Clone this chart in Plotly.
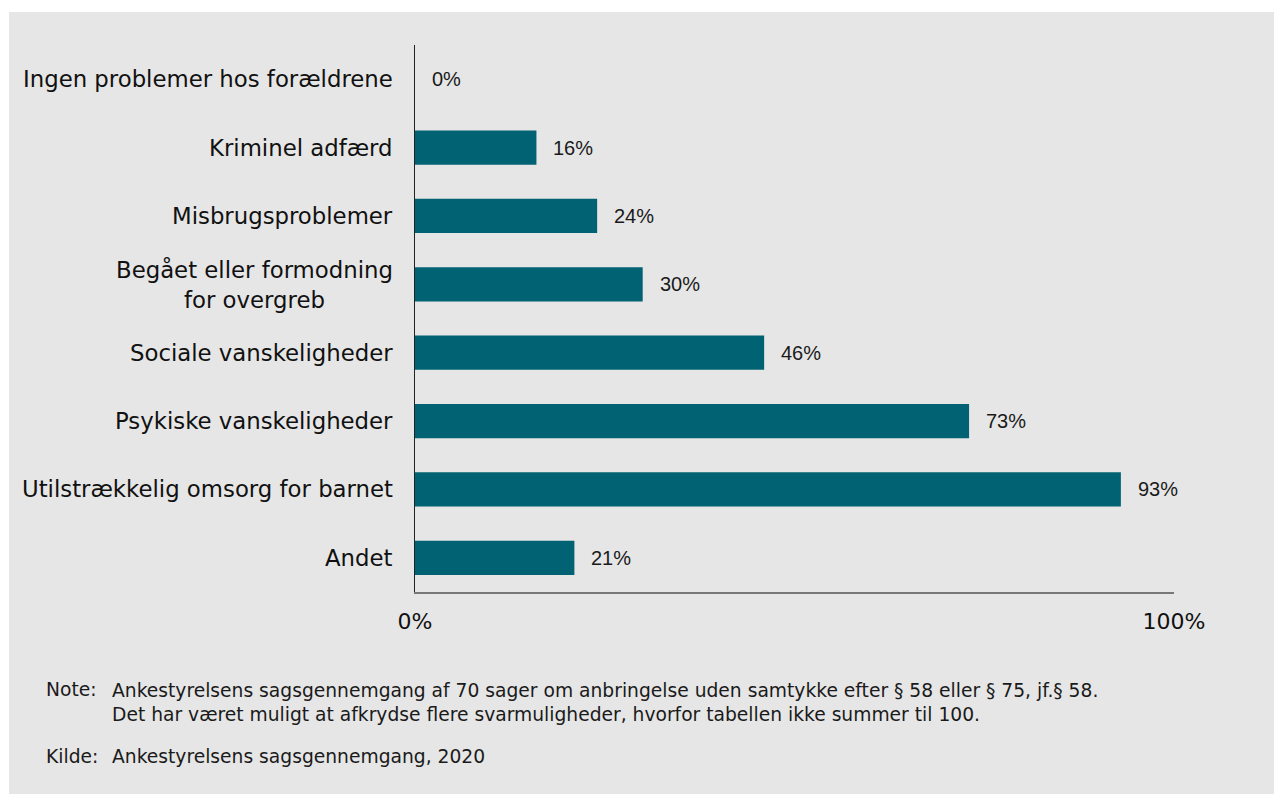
import plotly.graph_objects as go

# ---- data ----
categories = [
    "Ingen problemer hos forældrene",
    "Kriminel adfærd",
    "Misbrugsproblemer",
    "Begået eller formodning<br>for overgreb",
    "Sociale vanskeligheder",
    "Psykiske vanskeligheder",
    "Utilstrækkelig omsorg for barnet",
    "Andet",
]
values = [0, 16, 24, 30, 46, 73, 93, 21]
x_tickvals = [0, 100]
x_ticktext = ["0%", "100%"]
note_label = "Note:"
note_text = ("Ankestyrelsens sagsgennemgang af 70 sager om anbringelse uden samtykke efter § 58 eller § 75, jf.§ 58.<br>"
             "Det har været muligt at afkrydse flere svarmuligheder, hvorfor tabellen ikke summer til 100.")
source_label = "Kilde:"
source_text = "Ankestyrelsens sagsgennemgang, 2020"

# ---- layout geometry (window px -> paper px, page has 8px body margin) ----
OFF = 8
W, H = 1282, 794
PL, PR, PT, PB = 415 - OFF, 1174 - OFF, 45 - OFF, 592 - OFF  # plot area edges in figure px
ML, MR, MT, MB = PL, W - PR, PT, H - PB
PW, PH = PR - PL, PB - PT

def px_x(px):
    return (px - OFF - PL) / PW

def px_y(py):
    return (PB - (py - OFF)) / PH

GREY = "#e6e6e6"
BAR = "#006272"
FONT = "DejaVu Sans"

fig = go.Figure()
fig.add_trace(go.Bar(
    x=values, y=categories, orientation="h",
    marker=dict(color=BAR, line=dict(width=0)),
    width=0.5, hoverinfo="skip",
))

annotations = []
for c, v in zip(categories, values):
    annotations.append(dict(
        x=v, y=c, xref="x", yref="y", text=f"{v}%", showarrow=False,
        xanchor="left", yanchor="middle", xshift=15,
        font=dict(family="Liberation Sans, Arial", size=20, color="#1a1a1a"),
    ))
    annotations.append(dict(
        x=0, y=c, xref="paper", yref="y", text=c, showarrow=False,
        xanchor="right", yanchor="middle", xshift=-20, align="center",
        font=dict(family=FONT, size=22.8, color="#111111"),
    ))

note_font = dict(family=FONT, size=18.7, color="#1a1a1a")
annotations += [
    dict(x=px_x(44), y=px_y(689), xref="paper", yref="paper", text=note_label, showarrow=False,
         xanchor="left", yanchor="middle", font=note_font),
    dict(x=px_x(110), y=px_y(702), xref="paper", yref="paper", text=note_text, showarrow=False,
         xanchor="left", yanchor="middle", align="left", font=note_font),
    dict(x=px_x(44), y=px_y(756), xref="paper", yref="paper", text=source_label, showarrow=False,
         xanchor="left", yanchor="middle", font=note_font),
    dict(x=px_x(110), y=px_y(756), xref="paper", yref="paper", text=source_text, showarrow=False,
         xanchor="left", yanchor="middle", font=note_font),
]

fig.update_layout(
    width=W, height=H,
    margin=dict(l=ML, r=MR, t=MT, b=MB, pad=0),
    paper_bgcolor="white",
    plot_bgcolor="rgba(0,0,0,0)",
    showlegend=False,
    bargap=0.5,
    shapes=[dict(type="rect", xref="paper", yref="paper",
                 x0=px_x(9), x1=px_x(W + 20), y0=px_y(H + 20), y1=px_y(12),
                 fillcolor=GREY, line=dict(width=0), layer="below")],
    annotations=annotations,
    xaxis=dict(
        range=[0, 100], tickvals=x_tickvals, ticktext=x_ticktext,
        showgrid=False, zeroline=False,
        showline=True, linecolor="#777777", linewidth=2,
        ticks="inside", ticklen=7, tickwidth=2, tickcolor="#777777",
        tickfont=dict(family=FONT, size=22, color="#111111"),
        ticklabelstandoff=9,
    ),
    yaxis=dict(
        categoryorder="array", categoryarray=categories,
        autorange="reversed",
        showticklabels=False, showgrid=False, zeroline=False,
        showline=True, linecolor="#222222", linewidth=1, ticks="",
    ),
)

fig.write_html("out.html")
